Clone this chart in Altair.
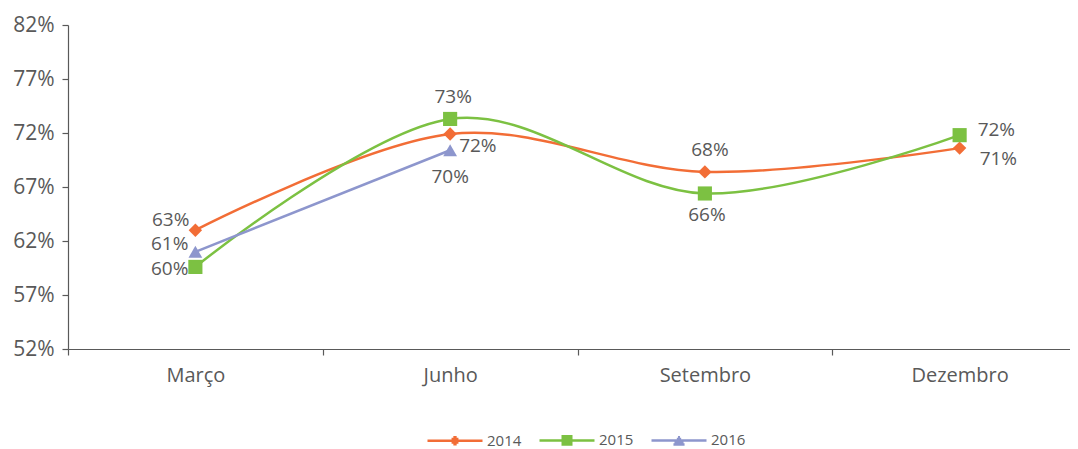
import altair as alt
import pandas as pd

months = ["Março", "Junho", "Setembro", "Dezembro"]
series = ["2014", "2015", "2016"]
v2014 = [63.0, 71.9, 68.4, 70.6]
v2015 = [59.6, 73.3, 66.4, 71.8]
v2016 = [61.0, 70.4]
y_ticks = [52, 57, 62, 67, 72, 77, 82]

colors = ["#F26D36", "#7CC142", "#8D96CD"]
TXT = "#595959"
FONT = "Open Sans"

rows = []
for s, vals in zip(series, [v2014, v2015, v2016]):
    for m, v in zip(months, vals):
        rows.append({"series": s, "month": m, "value": v, "label": f"{int(round(v))}%"})
df = pd.DataFrame(rows)

x_enc = alt.X(
    "month:N",
    sort=months,
    scale=alt.Scale(type="band", domain=months, range=[0, 1019], paddingInner=0, paddingOuter=0),
    axis=alt.Axis(
        title=None, tickBand="extent", tickSize=6, labelPadding=10, labelFontSize=20,
        labelFont=FONT, labelColor=TXT, domainColor=TXT, tickColor=TXT, labelAngle=0,
        domainWidth=1.2, tickWidth=1.2,
    ),
)
y_enc = alt.Y(
    "value:Q",
    scale=alt.Scale(domain=[52, 82], nice=False, zero=False),
    axis=alt.Axis(
        title=None, values=y_ticks, labelExpr="datum.value + '%'", grid=False,
        tickSize=6, labelPadding=8, labelFontSize=21, labelFont=FONT, labelColor=TXT,
        domainColor=TXT, tickColor=TXT, domainWidth=1.2, tickWidth=1.2,
    ),
)

# legend symbols: a line with a hatched (stroke-filled) marker, in [-1, 1] units
legend_paths = [
    "M-1,0H1M-0.19,0H0.19M-0.125,-0.065H0.125M-0.125,0.065H0.125M-0.06,-0.13H0.06M-0.06,0.13H0.06",
    "M-1,0H1M-0.2,0H0.2M-0.2,-0.075H0.2M-0.2,0.075H0.2M-0.2,-0.15H0.2M-0.2,0.15H0.2",
    "M-1,0H1M-0.037,-0.12H0.037M-0.079,-0.05H0.079M-0.122,0.02H0.122M-0.165,0.09H0.165M-0.202,0.15H0.202",
]
leg = alt.Legend(
    title=None, orient="none", legendX=358, legendY=386, direction="horizontal",
    symbolSize=3025, symbolStrokeWidth=2.5, symbolOpacity=1, labelFontSize=15, labelFont=FONT,
    labelColor=TXT, labelOffset=3, columnPadding=12,
)
color_enc = alt.Color("series:N", scale=alt.Scale(domain=series, range=colors), legend=leg)

base = alt.Chart(df)

legend_layer = base.mark_point(filled=False, opacity=0).encode(
    x=x_enc, y=y_enc, color=color_enc,
    shape=alt.Shape("series:N", scale=alt.Scale(domain=series, range=legend_paths), legend=leg),
)

lines = base.mark_line(interpolate="cardinal", tension=0, strokeWidth=2.5).encode(
    x=x_enc, y=y_enc, color=color_enc
)

marker_styles = {"2014": ("diamond", 180), "2015": ("square", 200), "2016": ("triangle-up", 190)}
point_layers = []
for s in series:
    shp, sz = marker_styles[s]
    point_layers.append(
        base.transform_filter(alt.datum.series == s)
        .mark_point(shape=shp, filled=True, size=sz, opacity=1)
        .encode(x=x_enc, y=y_enc, color=color_enc)
    )

label_place = [
    ("2014", "Março", "right", -6, -10),
    ("2016", "Março", "right", -7, -8),
    ("2015", "Março", "right", -7, 2),
    ("2015", "Junho", "center", 3, -22),
    ("2014", "Junho", "left", 9, 12),
    ("2016", "Junho", "center", 0, 27),
    ("2014", "Setembro", "center", 5, -22),
    ("2015", "Setembro", "center", 2, 22),
    ("2015", "Dezembro", "left", 18, -5),
    ("2014", "Dezembro", "left", 20, 11),
]
text_layers = []
for s, m, al, dx, dy in label_place:
    text_layers.append(
        base.transform_filter((alt.datum.series == s) & (alt.datum.month == m))
        .mark_text(align=al, baseline="middle", dx=dx, dy=dy, fontSize=19, font=FONT, color=TXT)
        .encode(x=x_enc, y=y_enc, text="label:N")
    )

chart = (
    alt.layer(legend_layer, lines, *point_layers, *text_layers)
    .properties(
        width=1002, height=324,
        autosize=alt.AutoSizeParams(type="none"),
        padding={"left": 60, "top": 17, "right": 0, "bottom": 100},
    )
    .configure_view(stroke=None)
)

chart.save("out.html", embed_options={"renderer": "svg", "actions": False})
